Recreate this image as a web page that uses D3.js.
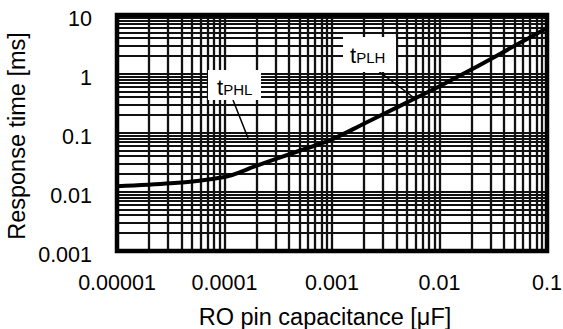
<!DOCTYPE html>
<html>
<head>
<meta charset="utf-8">
<script src="https://cdn.jsdelivr.net/npm/d3@7"></script>
<style>
  html, body { margin: 0; padding: 0; background: #fff; }
  svg { display: block; font-family: "Liberation Sans", Arial, sans-serif; }
</style>
</head>
<body>
<svg id="chart" width="563" height="329"></svg>
<script>
// Response time vs. RO pin capacitance (log-log)
const capacitance = [0.00001, 0.0001, 0.0002, 0.0005, 0.001, 0.002, 0.005, 0.01, 0.02, 0.05, 0.1];
const responseTime = [0.0125, 0.018, 0.028, 0.05, 0.078, 0.145, 0.33, 0.62, 1.2, 3.0, 6.0];

const xTickValues = [0.00001, 0.0001, 0.001, 0.01, 0.1];
const xTickLabels = ["0.00001", "0.0001", "0.001", "0.01", "0.1"];
const yTickValues = [0.001, 0.01, 0.1, 1, 10];
const yTickLabels = ["0.001", "0.01", "0.1", "1", "10"];

const xLabel = "RO pin capacitance [\u03bcF]";
const yLabel = "Response time [ms]";

const svg = d3.select("#chart");
const plotL = 117, plotR = 547, plotT = 15, plotB = 251;

const x = d3.scaleLog().domain([0.00001, 0.1]).range([plotL, plotR]);
const y = d3.scaleLog().domain([0.001, 10]).range([plotB, plotT]);

// grid values: 1..9 in every decade
function decadeGrid(lo, hi) {
  const out = [];
  const e0 = Math.round(Math.log10(lo)), e1 = Math.round(Math.log10(hi));
  for (let e = e0; e < e1; e++) {
    for (let k = 1; k <= 9; k++) out.push(k * Math.pow(10, e));
  }
  return out;
}

const g = svg.append("g");

g.selectAll("line.vgrid")
  .data(decadeGrid(0.00001, 0.1))
  .join("line")
  .attr("class", "vgrid")
  .attr("x1", d => Math.round(x(d))).attr("x2", d => Math.round(x(d)))
  .attr("y1", plotT).attr("y2", plotB)
  .attr("stroke", "#111").attr("stroke-width", 2.3);

g.selectAll("line.hgrid")
  .data(decadeGrid(0.001, 10))
  .join("line")
  .attr("class", "hgrid")
  .attr("y1", d => Math.round(y(d))).attr("y2", d => Math.round(y(d)))
  .attr("x1", plotL).attr("x2", plotR)
  .attr("stroke", "#111").attr("stroke-width", 2.2);

// frame
g.append("rect")
  .attr("x", plotL).attr("y", plotT)
  .attr("width", plotR - plotL).attr("height", plotB - plotT)
  .attr("fill", "none").attr("stroke", "#000").attr("stroke-width", 4.5);

// response curve
const line = d3.line()
  .x((d, i) => x(capacitance[i]))
  .y(d => y(d))
  .curve(d3.curveMonotoneX);

g.append("path")
  .datum(responseTime)
  .attr("d", line)
  .attr("fill", "none")
  .attr("stroke", "#000")
  .attr("stroke-width", 4)
  .attr("stroke-linejoin", "round");

// curve labels with leader lines
function curveLabel(bx, by, bw, bh, tx, ty, sub, lx1, ly1, lx2, ly2) {
  g.append("line")
    .attr("x1", lx1).attr("y1", ly1).attr("x2", lx2).attr("y2", ly2)
    .attr("stroke", "#000").attr("stroke-width", 1.5);
  g.append("rect")
    .attr("x", bx).attr("y", by).attr("width", bw).attr("height", bh)
    .attr("fill", "#fff");
  const t = g.append("text").attr("x", tx).attr("y", ty).attr("fill", "#000");
  t.append("tspan").attr("font-size", 22).text("t");
  t.append("tspan").attr("font-size", 15).text(sub);
}
curveLabel(343, 37, 53, 35, 350, 63, "PLH", 377, 70, 413, 97);
curveLabel(208, 70, 53, 30, 217, 95, "PHL", 233, 100, 248, 138);

// tick labels
svg.selectAll("text.xtick")
  .data(xTickValues)
  .join("text")
  .attr("class", "xtick")
  .attr("x", d => x(d))
  .attr("y", 290)
  .attr("text-anchor", "middle")
  .attr("font-size", 21.5)
  .text((d, i) => xTickLabels[i]);

svg.selectAll("text.ytick")
  .data(yTickValues)
  .join("text")
  .attr("class", "ytick")
  .attr("x", 92)
  .attr("y", d => y(d) + 10.5)
  .attr("text-anchor", "end")
  .attr("font-size", 21.5)
  .text((d, i) => yTickLabels[i]);

// axis titles
svg.append("text")
  .attr("x", 325)
  .attr("y", 325)
  .attr("text-anchor", "middle")
  .attr("font-size", 23.5)
  .text(xLabel);

svg.append("text")
  .attr("transform", "translate(25, 136) rotate(-90)")
  .attr("text-anchor", "middle")
  .attr("font-size", 23.5)
  .text(yLabel);
</script>
</body>
</html>
